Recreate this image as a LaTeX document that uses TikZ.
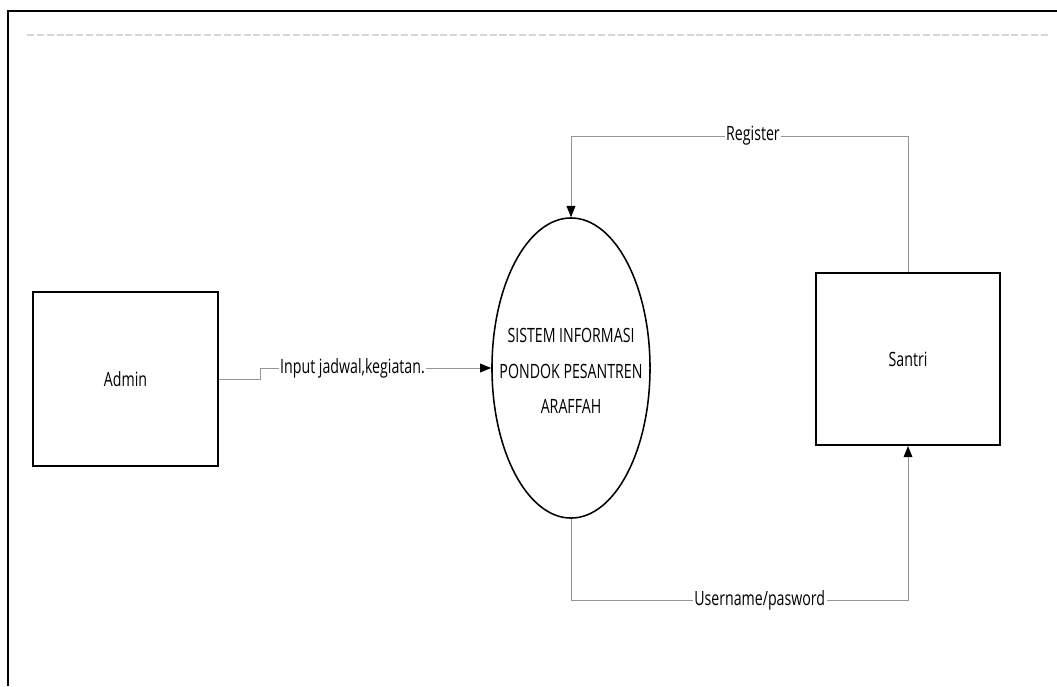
\documentclass[tikz,border=0pt]{standalone}
\usepackage{fontspec}
\setmainfont[FakeStretch=0.72]{Open Sans}
\definecolor{wire}{RGB}{150,150,150}
\definecolor{ruleline}{RGB}{214,214,214}
\usetikzlibrary{arrows.meta,positioning,shapes.geometric}

\begin{document}
\begin{tikzpicture}[x=0.025cm,y=-0.025cm,
    font=\fontsize{14}{16}\selectfont,
    ent/.style={draw,line width=1.4pt,inner sep=0pt},
    proc/.style={draw,ellipse,line width=1.1pt,minimum width=3.95cm,minimum height=7.5cm,inner sep=0pt},
    flow/.style={wire,line width=0.7pt,-{Triangle[length=2.8mm,width=2.2mm,color=black]}},
    lbl/.style={fill=white,inner sep=1pt,text=black}]
  \useasboundingbox (0,0) rectangle (1057,686);
  % page frame and header rule
  \draw[line width=1.8pt] (8,686) -- (8,11) -- (1057,11);
  \draw[ruleline,line width=1.5pt,dash pattern=on 5pt off 2pt] (27,35) -- (1050,35);

  % entities and process
  \node[ent,minimum width=4.625cm,minimum height=4.35cm] (admin) at (125.5,379) {Admin};
  \node[ent,minimum width=4.6cm,minimum height=4.3cm] (santri) at (908,359) {Santri};
  \node[proc] (sys) at (571,368) {};
  \node[align=center,font=\fontsize{14}{25}\selectfont] (sysname) at (571,371)
    {SISTEM INFORMASI\\PONDOK PESANTREN\\ARAFFAH};

  % data flows
  \draw[flow] (admin.east) -- ++(41,0) |- node[lbl,pos=0.70] {Input jadwal,kegiatan.} (sys.west);
  \draw[flow] (santri.north) -- ++(0,-136) -| node[lbl,pos=0.23] {Register} (sys.north);
  \draw[flow] (sys.south) -- ++(0,82) -| node[lbl,pos=0.28] {Username/pasword} (santri.south);
\end{tikzpicture}
\end{document}
